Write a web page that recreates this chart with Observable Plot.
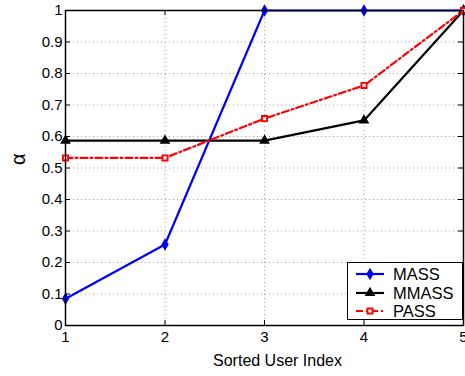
<!DOCTYPE html>
<html>
<head>
<meta charset="utf-8">
<script src="https://cdn.jsdelivr.net/npm/d3@7"></script>
<script src="https://cdn.jsdelivr.net/npm/@observablehq/plot@0.6"></script>
<style>
  html, body { margin: 0; padding: 0; background: #fff; }
  #wrap { position: relative; width: 465px; height: 376px; font-family: "Liberation Sans", Arial, sans-serif; }
  #legend { position: absolute; left: 347px; top: 262px; width: 116px; height: 58px; border: 1px solid #000; background: #fff; box-sizing: border-box; }
  #legend .row { position: absolute; left: 0; height: 18px; display: flex; align-items: center; }
  #legend .row span { font-size: 16.5px; color: #000; margin-left: 9px; }
</style>
</head>
<body>
<div id="wrap"></div>
<script>
const userIndex = [1, 2, 3, 4, 5];
const massValues = [0.085, 0.257, 1.0, 1.0, 1.0];
const mmassValues = [0.587, 0.587, 0.587, 0.651, 1.0];
const passValues = [0.532, 0.532, 0.657, 0.762, 1.0];
const seriesNames = ["MASS", "MMASS", "PASS"];
const xTicks = [1, 2, 3, 4, 5];
const yTicks = [0, 0.1, 0.2, 0.3, 0.4, 0.5, 0.6, 0.7, 0.8, 0.9, 1];

const styles = {
  MASS: {color: "#0000ff", symbol: "diamond", dash: null, fill: "#0000ff", r: 3.1, sw: 1.2},
  MMASS: {color: "#000000", symbol: "triangle", dash: null, fill: "#000000", r: 3.2, sw: 1.2},
  PASS: {color: "#ff0000", symbol: "square", dash: "7,3,2,3", fill: "#ffffff", r: 2.9, sw: 1.9}
};

const valuesBy = {MASS: massValues, MMASS: mmassValues, PASS: passValues};
const rows = seriesNames.flatMap(name => userIndex.map((x, i) => ({series: name, x, y: valuesBy[name][i]})));

const W = 465, H = 376;
const mL = 65, mR = 2, mT = 10, mB = 51;
const iW = W - mL - mR, iH = H - mT - mB;
const font = "Liberation Sans, Arial, sans-serif";

const marks = [
  Plot.ruleX(xTicks.slice(1, -1), {stroke: "#a0a0a0", strokeDasharray: "1,3", strokeWidth: 1}),
  Plot.ruleY(yTicks.slice(1, -1), {stroke: "#a0a0a0", strokeDasharray: "1,3", strokeWidth: 1}),
  // inward tick marks on all four sides
  Plot.tickX(xTicks, {stroke: "#000", insetTop: iH - 5}),
  Plot.tickX(xTicks, {stroke: "#000", insetBottom: iH - 5}),
  Plot.tickY(yTicks, {stroke: "#000", insetRight: iW - 5}),
  Plot.tickY(yTicks, {stroke: "#000", insetLeft: iW - 5}),
];

for (const name of seriesNames) {
  const s = styles[name];
  const data = rows.filter(d => d.series === name);
  marks.push(Plot.line(data, {x: "x", y: "y", stroke: s.color, strokeWidth: 2.2, strokeDasharray: s.dash}));
}
for (const name of seriesNames) {
  const s = styles[name];
  const data = rows.filter(d => d.series === name);
  marks.push(Plot.dot(data, {x: "x", y: "y", symbol: s.symbol, r: s.r, fill: s.fill, stroke: s.color, strokeWidth: s.sw}));
}

marks.push(Plot.frame({stroke: "#000", strokeWidth: 1.5}));
marks.push(Plot.axisX(xTicks, {tickSize: 0, tickPadding: 6, fontSize: 15, tickFormat: d => String(d), label: null}));
marks.push(Plot.axisY(yTicks, {tickSize: 0, tickPadding: 3, fontSize: 15, tickFormat: d => d === 0 ? "0" : d === 1 ? "1" : d3.format(".1f")(d), label: null}));
marks.push(Plot.text(["Sorted User Index"], {frameAnchor: "bottom", dx: 13, dy: 40, fontSize: 16, fill: "#000"}));
marks.push(Plot.text(["α"], {frameAnchor: "left", dx: -47, dy: -3, rotate: -90, fontSize: 20, fill: "#000"}));

const chart = Plot.plot({
  width: W, height: H,
  marginLeft: mL, marginRight: mR, marginTop: mT, marginBottom: mB,
  style: {fontFamily: font, fontSize: "15px", color: "#000", background: "#fff", overflow: "visible"},
  x: {domain: [1, 5]},
  y: {domain: [0, 1]},
  marks
});

const wrap = document.getElementById("wrap");
wrap.appendChild(chart);

// legend
const legend = document.createElement("div");
legend.id = "legend";
const rowTops = [2, 21, 39];
seriesNames.forEach((name, i) => {
  const s = styles[name];
  const row = document.createElement("div");
  row.className = "row";
  row.style.top = rowTops[i] + "px";
  row.style.left = "8px";
  const svg = d3.create("svg").attr("width", 28).attr("height", 18);
  svg.append("line").attr("x1", 0).attr("x2", 28).attr("y1", 9).attr("y2", 9)
    .attr("stroke", s.color).attr("stroke-width", 2.2).attr("stroke-dasharray", s.dash);
  const sym = d3.symbol().type(s.symbol === "diamond" ? d3.symbolDiamond : s.symbol === "triangle" ? d3.symbolTriangle : d3.symbolSquare)
    .size(Math.PI * s.r * s.r);
  svg.append("path").attr("d", sym()).attr("transform", "translate(14,9)")
    .attr("fill", s.fill).attr("stroke", s.color).attr("stroke-width", s.sw);
  row.appendChild(svg.node());
  const label = document.createElement("span");
  label.textContent = name;
  row.appendChild(label);
  legend.appendChild(row);
});
wrap.appendChild(legend);
</script>
</body>
</html>
